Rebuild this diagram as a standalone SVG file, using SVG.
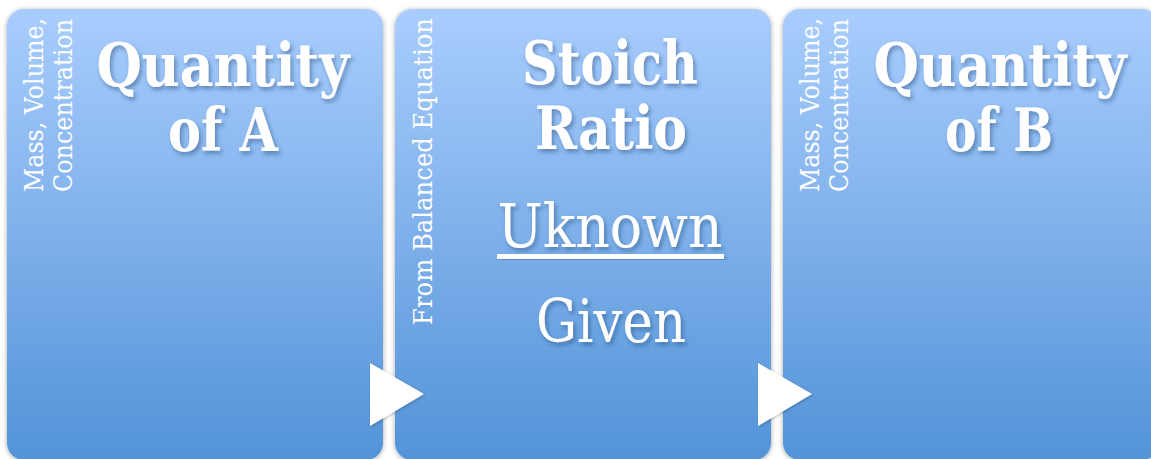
<svg xmlns="http://www.w3.org/2000/svg" width="1151" height="459" viewBox="0 0 1151 459">
<defs>
<linearGradient id="boxGrad" x1="0" y1="0" x2="0" y2="1">
<stop offset="0" stop-color="#a9cdfd"/>
<stop offset="1" stop-color="#5393d8"/>
</linearGradient>
<filter id="boxShadow" x="-5%" y="-5%" width="110%" height="110%">
<feDropShadow dx="0" dy="1" stdDeviation="2.5" flood-color="#000" flood-opacity="0.35"/>
</filter>
<filter id="textShadow" x="-10%" y="-10%" width="120%" height="130%">
<feDropShadow dx="2" dy="3" stdDeviation="2" flood-color="#1a3a66" flood-opacity="0.45"/>
</filter>
<filter id="arrowShadow" x="-20%" y="-20%" width="140%" height="140%">
<feDropShadow dx="1" dy="1" stdDeviation="1.5" flood-color="#000" flood-opacity="0.25"/>
</filter>
</defs>
<style>
.box { fill: url(#boxGrad); filter: url(#boxShadow); }
.title { font-family: "DejaVu Serif", "Liberation Serif", serif; font-weight: bold; font-size: 59px; fill: #ffffff; text-anchor: middle; filter: url(#textShadow); }
.big { font-family: "DejaVu Serif", "Liberation Serif", serif; font-size: 60px; fill: #ffffff; text-anchor: middle; filter: url(#textShadow); }
.side { font-family: "DejaVu Serif", "Liberation Serif", serif; font-size: 26px; fill: #ffffff; text-anchor: start; }
.arrow { fill: #ffffff; filter: url(#arrowShadow); }
</style>
<rect x="0" y="0" width="1151" height="459" fill="#ffffff"/>

<g id="node-quantity-a">
<rect class="box" x="7" y="9" width="376" height="451" rx="17" ry="17"/>
<text class="side" transform="translate(43,192) rotate(-90)" textLength="174" lengthAdjust="spacingAndGlyphs">Mass, Volume,</text>
<text class="side" transform="translate(72,192) rotate(-90)" textLength="173" lengthAdjust="spacingAndGlyphs">Concentration</text>
<text class="title" x="223" y="86" textLength="253" lengthAdjust="spacingAndGlyphs">Quantity</text>
<text class="title" x="223" y="151" textLength="110" lengthAdjust="spacingAndGlyphs">of A</text>
</g>

<g id="node-stoich-ratio">
<rect class="box" x="395" y="9" width="376" height="451" rx="17" ry="17"/>
<text class="side" transform="translate(432,325) rotate(-90)" textLength="307" lengthAdjust="spacingAndGlyphs">From Balanced Equation</text>
<text class="title" x="610" y="84" textLength="176" lengthAdjust="spacingAndGlyphs">Stoich</text>
<text class="title" x="611" y="149" textLength="152" lengthAdjust="spacingAndGlyphs">Ratio</text>
<text class="big" x="610" y="247" textLength="225" lengthAdjust="spacingAndGlyphs">Uknown</text>
<rect x="497" y="254" width="227" height="5" fill="#ffffff" filter="url(#textShadow)"/>
<text class="big" x="611" y="342" textLength="150" lengthAdjust="spacingAndGlyphs">Given</text>
</g>

<g id="node-quantity-b">
<rect class="box" x="783" y="9" width="376" height="451" rx="17" ry="17"/>
<text class="side" transform="translate(819,192) rotate(-90)" textLength="174" lengthAdjust="spacingAndGlyphs">Mass, Volume,</text>
<text class="side" transform="translate(848,192) rotate(-90)" textLength="173" lengthAdjust="spacingAndGlyphs">Concentration</text>
<text class="title" x="1000" y="86" textLength="253" lengthAdjust="spacingAndGlyphs">Quantity</text>
<text class="title" x="999" y="151" textLength="108" lengthAdjust="spacingAndGlyphs">of B</text>
</g>

<g id="connectors">
<polygon class="arrow" points="370,363 424,394 370,426"/>
<polygon class="arrow" points="758,363 812,394 758,426"/>
</g>
</svg>
